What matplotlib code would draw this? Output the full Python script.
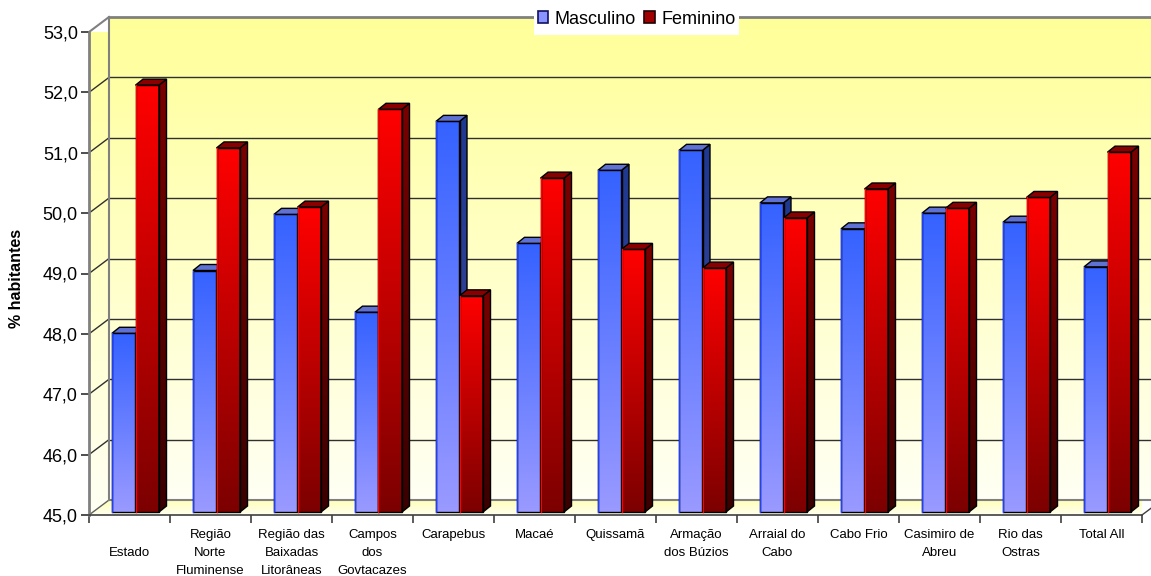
import numpy as np
import matplotlib
matplotlib.use("Agg")
import matplotlib.pyplot as plt
from matplotlib.patches import Polygon, Patch, Rectangle
from matplotlib.colors import LinearSegmentedColormap

# ---- data -------------------------------------------------------------
categories = ["\nEstado", "Região\nNorte\nFluminense", "Região das\nBaixadas\nLitorâneas",
              "Campos\ndos\nGovtacazes", "Carapebus", "Macaé", "Quissamã",
              "Armação\ndos Búzios", "Arraial do\nCabo", "Cabo Frio",
              "Casimiro de\nAbreu", "Rio das\nOstras", "Total All"]
masculino = [47.96, 49.00, 49.93, 48.31, 51.47, 49.45, 50.66, 50.99, 50.12, 49.69, 49.95, 49.80, 49.06]
feminino = [52.07, 51.03, 50.05, 51.67, 48.58, 50.53, 49.35, 49.04, 49.87, 50.35, 50.03, 50.21, 50.96]
series_names = ["Masculino", "Feminino"]
y_ticks = [45, 46, 47, 48, 49, 50, 51, 52, 53]
y_label = "% habitantes"

plt.rcParams["font.family"] = ["Liberation Sans", "DejaVu Sans"]

W, H = 1151, 576
fig = plt.figure(figsize=(W / 100, H / 100), dpi=100)
fig.patch.set_facecolor("white")
ax = fig.add_axes([89 / W, 61 / H, 1053 / W, 483 / H])
ax.set_autoscale_on(False)
ax.set_xlim(0, len(categories))
ax.set_ylim(y_ticks[0], y_ticks[-1])
ax.patch.set_visible(False)

x_lo, x_hi = ax.get_xlim()
y_lo, y_hi = ax.get_ylim()
sx = (x_hi - x_lo) / ax.bbox.width
sy = (y_hi - y_lo) / ax.bbox.height


def px(dx, dy):
    """Convert a pixel offset to data units."""
    return dx * sx, dy * sy


def cmap_of(bottom, top):
    return LinearSegmentedColormap.from_list("g", [bottom, top])


def vgrad(x0, x1, y0, y1, bottom, top, z, clip=None):
    g = np.linspace(0, 1, 256).reshape(-1, 1)
    im = ax.imshow(g, extent=(x0, x1, y0, y1), origin="lower", aspect="auto",
                   cmap=cmap_of(bottom, top), interpolation="bilinear", zorder=z)
    if clip is None:
        im.set_clip_on(False)
    else:
        im.set_clip_path(clip)
        im.set_clip_box(None)
    return im


# ---- walls and floor ----------------------------------------------------
wx, wy = px(20, 15)
wall_top, wall_bot = "#ffff99", "#fffff4"

vgrad(x_lo + wx, x_hi + wx, y_lo + wy, y_hi + wy, wall_bot, wall_top, 0.1)

left_wall = Polygon([(x_lo, y_lo), (x_lo, y_hi), (x_lo + wx, y_hi + wy), (x_lo + wx, y_lo + wy)],
                    closed=True, facecolor="none", edgecolor="none")
ax.add_patch(left_wall)
vgrad(x_lo, x_lo + wx, y_lo, y_hi + wy, wall_bot, wall_top, 0.1, clip=left_wall)

floor = Polygon([(x_lo, y_lo), (x_hi, y_lo), (x_hi + wx, y_lo + wy), (x_lo + wx, y_lo + wy)],
                closed=True, facecolor="none", edgecolor="none")
ax.add_patch(floor)
vgrad(x_lo, x_hi + wx, y_lo, y_lo + wy, "#fffff0", "#ffffb8", 0.1, clip=floor)

for t in y_ticks:
    if t in (y_ticks[0], y_ticks[-1]):
        col, lw = "#808080", 2.0 if t == y_ticks[-1] else 1.5
    else:
        col, lw = "#303030", 1.0
    ax.plot([x_lo + wx, x_hi + wx], [t + wy, t + wy], color=col, lw=lw, zorder=0.5,
            clip_on=False, solid_capstyle="butt")
    ax.plot([x_lo, x_lo + wx], [t, t + wy], color=col if t != y_lo else "#606060",
            lw=1.0 if t != y_hi else 1.5, zorder=0.5, clip_on=False)

ax.plot([x_lo + wx, x_lo + wx], [y_lo + wy, y_hi + wy], color="#808080", lw=1.5,
        zorder=0.5, clip_on=False)
ax.plot([x_hi, x_hi + wx], [y_lo, y_lo + wy], color="#404040", lw=1.0, zorder=0.5,
        clip_on=False)

# ---- bars ---------------------------------------------------------------
bx, by = px(6, 3)
ddx, ddy = px(7.5, 6)
bar_w = 23.5 * sx
x = np.arange(len(categories)) + 0.5 + bx

styles = [
    dict(front=("#9a9aff", "#3562ff"), side=("#404a9c", "#1f3890"), top="#5f72d4", edge_hl="#2040ff"),
    dict(front=("#7c0000", "#ff0000"), side=("#3a0000", "#7a0000"), top="#8a0000", edge_hl="#ff0000"),
]

zbase = 2
for i in range(len(categories)):
    for s, (vals, off) in enumerate(((masculino, -bar_w / 2), (feminino, bar_w / 2))):
        st = styles[s]
        z = zbase + i * 2 + s
        bar = ax.bar(x[i] + off, vals[i] - y_lo, width=bar_w, bottom=y_lo + by,
                     facecolor="none", edgecolor="black", linewidth=1.0,
                     zorder=z + 0.3, clip_on=False)[0]
        x0, x1 = bar.get_x(), bar.get_x() + bar.get_width()
        b0, t0 = bar.get_y(), bar.get_y() + bar.get_height()
        vgrad(x0, x1, b0, t0, st["front"][0], st["front"][1], z)
        side = Polygon([(x1, b0), (x1, t0), (x1 + ddx, t0 + ddy), (x1 + ddx, b0 + ddy)],
                       closed=True, facecolor="none", edgecolor="black", lw=1.0,
                       zorder=z + 0.3, clip_on=False)
        ax.add_patch(side)
        vgrad(x1, x1 + ddx, b0, t0 + ddy, st["side"][0], st["side"][1], z, clip=side)
        side.set_clip_on(False)
        top = Polygon([(x0, t0), (x1, t0), (x1 + ddx, t0 + ddy), (x0 + ddx, t0 + ddy)],
                      closed=True, facecolor=st["top"], edgecolor="black", lw=1.0,
                      zorder=z + 0.3, clip_on=False)
        ax.add_patch(top)
        ax.plot([x0, x0], [b0, t0], color=st["edge_hl"], lw=1.0, zorder=z + 0.35,
                clip_on=False)

# ---- axes, ticks, labels -------------------------------------------------
for sp in ("top", "right"):
    ax.spines[sp].set_visible(False)
ax.spines["left"].set_color("#808080")
ax.spines["left"].set_linewidth(2)
ax.spines["bottom"].set_color("#404040")
ax.spines["bottom"].set_linewidth(1.2)
ax.spines["left"].set_zorder(60)
ax.spines["bottom"].set_zorder(60)

ax.set_yticks(y_ticks)
ax.set_yticklabels([f"{v:.1f}".replace(".", ",") for v in y_ticks])
ax.tick_params(axis="y", length=6, width=1.2, color="#303030", labelsize=13, pad=2)

ax.set_xticks(np.arange(len(categories) + 1))
ax.set_xticklabels([])
ax.tick_params(axis="x", which="major", length=6, width=1.2, color="#404040")
ax.set_xticks(np.arange(len(categories)) + 0.5, minor=True)
ax.set_xticklabels(categories, minor=True, fontsize=9.5, linespacing=1.65, va="top")
ax.tick_params(axis="x", which="minor", length=0, pad=10)

fig.text(17 / W, 1 - 278 / H, y_label, rotation=90, fontsize=11.5, fontweight="bold",
         ha="center", va="center")

# legend panel: white box cut into the top edge of the back wall
fig.add_artist(Rectangle((534 / W, 1 - 35 / H), 205 / W, 35 / H, transform=fig.transFigure,
                         facecolor="white", edgecolor="none", zorder=4))
handles = [Patch(facecolor="#8a94ff", edgecolor="#101060", lw=1.2),
           Patch(facecolor="#a00000", edgecolor="#200000", lw=1.2)]
leg = fig.legend(handles, series_names, loc="center",
                 bbox_to_anchor=(636.5 / W, 1 - 19 / H), ncol=2, fontsize=13,
                 frameon=False, handlelength=0.6, handleheight=0.6,
                 handletextpad=0.35, columnspacing=0.45, borderpad=0.2,
                 borderaxespad=0)
leg.set_zorder(5)

fig.savefig("out.png", dpi=100, facecolor="white")
